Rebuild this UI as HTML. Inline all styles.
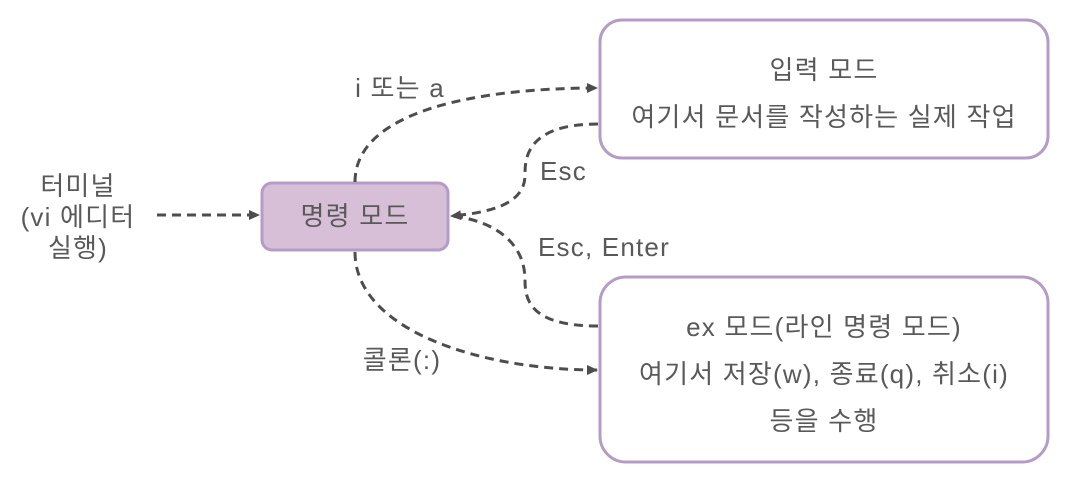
<!DOCTYPE html>
<html><head><meta charset="utf-8"><style>
body{margin:0;background:#fff;width:1069px;height:482px;overflow:hidden}
text{font-family:"Liberation Sans","Noto Sans CJK KR",sans-serif;fill:#595959;font-size:26px;letter-spacing:1.2px}
</style></head><body>
<svg width="1069" height="482" viewBox="0 0 1069 482">
<defs><marker id="a" markerWidth="12" markerHeight="12" refX="10" refY="6" orient="auto" markerUnits="userSpaceOnUse"><path d="M0,1 L11,6 L0,11 z" fill="#4d4d4d"/></marker></defs>
<rect x="600" y="20" width="448" height="138" rx="22" fill="#fff" stroke="#b49cc6" stroke-width="3"/>
<rect x="600" y="277" width="448" height="185" rx="26" fill="#fff" stroke="#b49cc6" stroke-width="3"/>
<rect x="262" y="183" width="186" height="67" rx="10" fill="#d8bfd8" stroke="#b49cc6" stroke-width="3"/>
<g fill="none" stroke="#4d4d4d" stroke-width="3" stroke-dasharray="9,6">
<path d="M157,215 L259,215" marker-end="url(#a)"/>
<path d="M355,182 C355,110 480,88 597,88" marker-end="url(#a)"/>
<path d="M598,124 C525,124 525,160 525,175 C525,200 500,212 451,216" marker-end="url(#a)"/>
<path d="M598,326 C530,326 525,300 525,280 C525,240 490,220 452,216"/>
<path d="M355,252 C355,330 480,370 597,370" marker-end="url(#a)"/>
</g>
<text x="78" y="195" text-anchor="middle">터미널</text>
<text x="78" y="226" text-anchor="middle">(vi 에디터</text>
<text x="78" y="257" text-anchor="middle">실행)</text>
<text x="355" y="225" text-anchor="middle">명령 모드</text>
<text x="400" y="97" text-anchor="middle">i 또는 a</text>
<text x="540" y="180">Esc</text>
<text x="538" y="256">Esc, Enter</text>
<text x="402" y="369" text-anchor="middle">콜론(:)</text>
<text x="824" y="79" text-anchor="middle">입력 모드</text>
<text x="824" y="126" text-anchor="middle">여기서 문서를 작성하는 실제 작업</text>
<text x="824" y="336" text-anchor="middle">ex 모드(라인 명령 모드)</text>
<text x="824" y="383" text-anchor="middle">여기서 저장(w), 종료(q), 취소(i)</text>
<text x="824" y="430" text-anchor="middle">등을 수행</text>
</svg>
</body></html>
